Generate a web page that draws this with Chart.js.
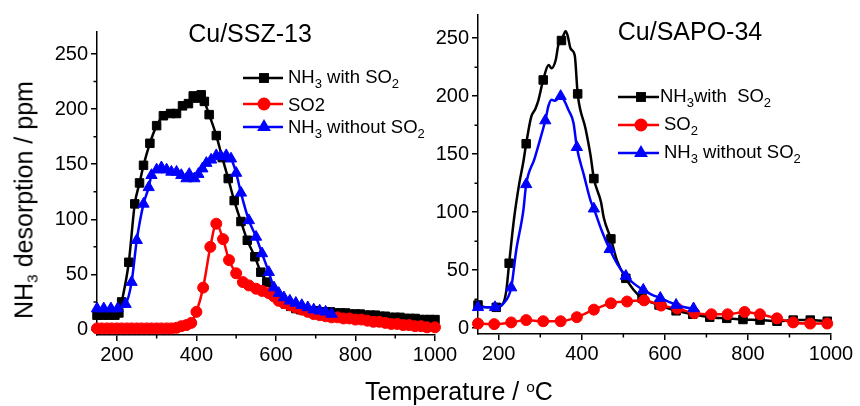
<!DOCTYPE html>
<html>
<head>
<meta charset="utf-8">
<script src="https://cdn.jsdelivr.net/npm/chart.js@4.4.1/dist/chart.umd.min.js"></script>
<style>
  html, body { margin: 0; padding: 0; background: #fff; }
  #wrap { position: relative; width: 860px; height: 406px; font-family: "Liberation Sans", Arial, sans-serif; }
  canvas { position: absolute; left: 0; top: 0; }
  .axis-title { position: absolute; font-size: 25px; line-height: 25px; white-space: nowrap; color: #000; }
  .axis-title sub { font-size: 0.62em; vertical-align: -0.32em; line-height: 0; }
  .axis-title sup { font-size: 0.62em; vertical-align: 0.5em; line-height: 0; }
  #yTitle { left: 24px; top: 200px; transform: translate(-50%, -50%) rotate(-90deg); }
  #xTitle { left: 365px; top: 379px; }
</style>
</head>
<body>
<div id="wrap">
  <canvas id="sszChart" width="860" height="406"></canvas>
  <canvas id="sapoChart" width="860" height="406"></canvas>
  <div class="axis-title" id="yTitle">NH<sub>3</sub> desorption / ppm</div>
  <div class="axis-title" id="xTitle">Temperature / <sup>o</sup>C</div>
</div>
<script>
// Axis ticks
const tempTicks = [200, 400, 600, 800, 1000];
const tempMinor = [300, 500, 700, 900];
const ppmTicks = [0, 50, 100, 150, 200, 250];
const ppmMinor = [25, 75, 125, 175, 225];

// Cu/SSZ-13 - NH3 with SO2
const sszWithSo2Temp = [150,165,180,195,205,212,230,245,257,267,283,300,317,335,350,365,380,392,402,412,420,432,450,465,480,495,512,528,547,562,577,600,612,625,637,650,662,675,687,700,712,725,737,750,762,775,787,800,812,825,837,850,862,875,887,900,912,925,937,950,962,975,987,1000];
const sszWithSo2 = [13,13,13,13,15,25,61,114,133,149,169,185,194,196,196,203,205,212,210,213,207,195,176,156,137,117,98,81,66,52,43,30,26,23,21,19,18,18,17,17,16,16,16,15,15,15,14,14,14,13,13,13,12,12,11,11,11,10,10,10,9,9,9,9];

// Cu/SSZ-13 - SO2
const sszSo2Temp = [150,162,175,187,200,212,225,237,250,262,275,287,300,312,325,337,350,362,375,387,400,417,435,450,467,482,500,517,532,550,565,582,595,607,620,635,650,665,680,695,710,725,740,755,770,785,800,815,830,845,860,875,890,905,920,935,950,965,980,1000];
const sszSo2 = [1,1,1,1,1,1,1,1,1,1,1,1,1,1,1,1,1.5,3,4,6,16,38,75,96,82,63,51,43,40,37,35,33,30,26,24,22,20,18,16,14,13,12,11,11,10,10,9,9,8,7,7,6,5,5,4,4,3,3,2,2];

// Cu/SSZ-13 - NH3 without SO2
const sszNoSo2Temp = [150,167,185,202,222,237,250,267,280,287,300,312,325,337,350,362,375,382,395,405,415,425,437,450,462,475,487,500,512,532,550,565,582,595,607,620,635,650,665,680,695,710,725,740];
const sszNoSo2 = [19,19,19,19,23,43,81,114,129,140,145,147,145,143,143,140,137,141,137,141,146,151,154,158,157,158,155,142,124,99,84,69,52,38,33,29,26,24,22,20,18,17,16,14];

// Cu/SAPO-34 - NH3 with SO2
const sapoWithSo2Temp = [150,170,194,210,218,225,237,249,259,266,278,288,295,307,320,327,337,344,351,361,366,373,383,390,409,421,429,446,453,470,485,506,525,545,586,627,667,708,749,788,829,870,909,950,991];
const sapoWithSo2 = [20,18,18,21,32,56,95,124,143,159,182,189,196,214,227,224,231,245,248,256,252,241,235,202,172,149,129,109,95,77,58,43,33,26,20,15,12,9.5,8.5,7.5,7,6,7,7,6];
const sapoWithSo2Marks = [150,194,225,266,307,351,390,429,470,506,545,586,627,667,708,749,788,829,870,909,950,991];

// Cu/SAPO-34 - SO2
const sapoSo2Temp = [150,189,230,266,307,349,388,429,470,509,550,591,630,671,712,751,792,829,870,909,950,991];
const sapoSo2 = [4,3.5,5,7,6,6,9.5,16,21.5,23,24,19.5,17,13,12,12,14,12,8.5,5,4,4];

// Cu/SAPO-34 - NH3 without SO2
const sapoNoSo2Temp = [150,170,191,210,230,242,259,266,286,295,312,320,327,336,349,358,368,380,388,405,421,429,448,467,486,506,527,548,568,589,608,627,648,669];
const sapoNoSo2 = [18,18,18,21,35,67,101,124,146,157,179,192,197,196,200,196,188,177,156,132,110,103,84,68,55,45,38,33,29,26,23,20,18,17];
const sapoNoSo2Marks = [150,191,230,266,312,349,388,429,467,506,548,589,627,669];

const FONT = '"Liberation Sans", Arial, sans-serif';
const BLACK = '#000000', RED = '#ff0000', BLUE = '#0000ff';

function toPoints(xs, ys) {
    return xs.map((x, i) => ({ x: x, y: ys[i] }));
}

function drawMarker(ctx, style, x, y, r) {
    ctx.beginPath();
    if (style === 'rect') {
        const s = r * Math.SQRT1_2;
        ctx.rect(x - s, y - s, 2 * s, 2 * s);
    } else if (style === 'circle') {
        ctx.arc(x, y, r, 0, Math.PI * 2);
    } else {
        ctx.moveTo(x, y - r);
        ctx.lineTo(x + 0.866 * r, y + 0.5 * r);
        ctx.lineTo(x - 0.866 * r, y + 0.5 * r);
        ctx.closePath();
    }
    ctx.fill();
}

// minor ticks, panel title and legend
const panelDecor = {
    id: 'panelDecor',
    afterDraw(chart, args, opts) {
        const ctx = chart.ctx;
        const xs = chart.scales.x, ys = chart.scales.y;
        ctx.save();
        ctx.strokeStyle = BLACK;
        ctx.lineWidth = 1.5;
        ctx.beginPath();
        tempMinor.forEach(v => {
            const px = xs.getPixelForValue(v);
            ctx.moveTo(px, xs.top);
            ctx.lineTo(px, xs.top + 3.5);
        });
        ppmMinor.forEach(v => {
            const py = ys.getPixelForValue(v);
            ctx.moveTo(ys.right, py);
            ctx.lineTo(ys.right - 3.5, py);
        });
        ctx.stroke();

        ctx.fillStyle = BLACK;
        ctx.font = '25px ' + FONT;
        ctx.textAlign = 'center';
        ctx.textBaseline = 'alphabetic';
        ctx.fillText(opts.title, opts.titleX, opts.titleY);

        ctx.textAlign = 'left';
        opts.legend.forEach(item => {
            ctx.strokeStyle = item.color;
            ctx.fillStyle = item.color;
            ctx.lineWidth = 2.5;
            ctx.beginPath();
            ctx.moveTo(opts.lineX1, item.y);
            ctx.lineTo(opts.lineX2, item.y);
            ctx.stroke();
            drawMarker(ctx, item.style, opts.markX, item.y, item.r);

            ctx.fillStyle = BLACK;
            let x = item.textX;
            item.parts.forEach(p => {
                const sub = p[1];
                ctx.font = (sub ? '13px ' : '18.5px ') + FONT;
                ctx.fillText(p[0], x, item.base + (sub ? 5 : 0));
                x += ctx.measureText(p[0]).width;
            });
        });
        ctx.restore();
    }
};

function axes() {
    const common = {
        type: 'linear',
        grid: { drawOnChartArea: false, tickLength: 6, color: BLACK, lineWidth: 1.5 },
        border: { color: BLACK, width: 1.5 },
        ticks: { color: BLACK, font: { family: FONT, size: 20 }, callback: v => String(v) }
    };
    return {
        x: Object.assign({}, common, {
            min: 150, max: 1000,
            ticks: Object.assign({}, common.ticks, { padding: 2, maxRotation: 0, autoSkip: false }),
            afterBuildTicks: s => { s.ticks = tempTicks.map(v => ({ value: v })); },
            afterFit: s => { s.height = 35; }
        }),
        y: Object.assign({}, common, {
            min: -5, max: 270,
            ticks: Object.assign({}, common.ticks, { padding: 3 }),
            afterBuildTicks: s => { s.ticks = ppmTicks.map(v => ({ value: v })); },
            afterFit: s => { s.width = 50; }
        })
    };
}

function series(xs, ys, color, style, radius, marks) {
    return {
        data: toPoints(xs, ys),
        borderColor: color,
        backgroundColor: color,
        borderWidth: 2.5,
        pointStyle: style,
        pointRadius: marks ? (c => marks.includes(c.raw.x) ? radius : 0) : radius,
        pointBorderWidth: 1,
        pointBorderColor: color,
        pointBackgroundColor: color,
        cubicInterpolationMode: 'monotone',
        clip: false
    };
}

function makeChart(id, datasets, padding, decor) {
    return new Chart(document.getElementById(id), {
        type: 'line',
        data: { datasets: datasets },
        options: {
            responsive: false,
            animation: false,
            events: [],
            layout: { padding: padding },
            scales: axes(),
            plugins: {
                legend: { display: false },
                tooltip: { enabled: false },
                panelDecor: decor
            }
        },
        plugins: [panelDecor]
    });
}

const sszChart = makeChart('sszChart', [
    series(sszNoSo2Temp, sszNoSo2, BLUE, 'triangle', 6.5),
    series(sszSo2Temp, sszSo2, RED, 'circle', 5.5),
    series(sszWithSo2Temp, sszWithSo2, BLACK, 'rect', 6)
], { left: 47, right: 425, top: 32, bottom: 36 }, {
    title: 'Cu/SSZ-13', titleX: 250, titleY: 42,
    lineX1: 243, lineX2: 283, markX: 264,
    legend: [
        { parts: [['NH', 0], ['3', 1], [' with SO', 0], ['2', 1]], color: BLACK, style: 'rect', r: 7, y: 78, base: 83, textX: 288 },
        { parts: [['SO2', 0]], color: RED, style: 'circle', r: 6.5, y: 104, base: 111, textX: 288 },
        { parts: [['NH', 0], ['3', 1], [' without SO', 0], ['2', 1]], color: BLUE, style: 'triangle', r: 8, y: 127, base: 133, textX: 288 }
    ]
});

const sapoChart = makeChart('sapoChart', [
    series(sapoNoSo2Temp, sapoNoSo2, BLUE, 'triangle', 6.5, sapoNoSo2Marks),
    series(sapoSo2Temp, sapoSo2, RED, 'circle', 5.5),
    series(sapoWithSo2Temp, sapoWithSo2, BLACK, 'rect', 6, sapoWithSo2Marks)
], { left: 428, right: 29, top: 12, bottom: 37 }, {
    title: 'Cu/SAPO-34', titleX: 690, titleY: 40,
    lineX1: 618, lineX2: 659, markX: 641,
    legend: [
        { parts: [['NH', 0], ['3', 1], ['with  SO', 0], ['2', 1]], color: BLACK, style: 'rect', r: 7, y: 97, base: 102, textX: 660 },
        { parts: [['SO', 0], ['2', 1]], color: RED, style: 'circle', r: 6.5, y: 125, base: 130, textX: 664 },
        { parts: [['NH', 0], ['3', 1], [' without SO', 0], ['2', 1]], color: BLUE, style: 'triangle', r: 8, y: 153, base: 158, textX: 664 }
    ]
});
</script>
</body>
</html>
